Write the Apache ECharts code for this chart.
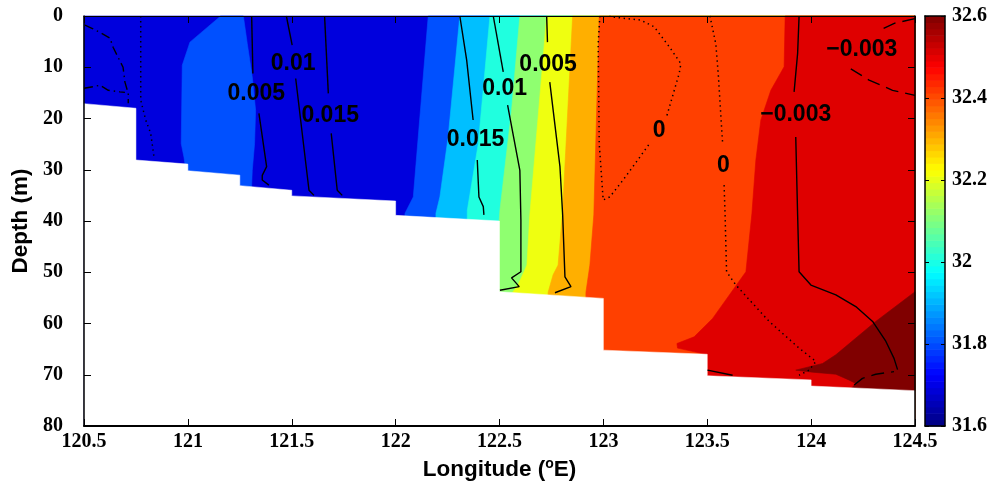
<!DOCTYPE html>
<html><head><meta charset="utf-8">
<script src="https://cdn.jsdelivr.net/npm/echarts@6/dist/echarts.min.js"></script>
<style>html,body{margin:0;padding:0;background:#fff}#c{width:1000px;height:488px}</style>
</head><body><div id="c"></div>
<script>
// ---------------- axis ranges / ticks ----------------
const lonRange = [120.5, 124.5];
const depthRange = [0, 80];
const salinityRange = [31.6, 32.6];

// ---------------- bottom topography [lon, depth m] ----------------
const bathymetry = [[120.5,17.1],[120.75,18.0],[120.75,28.1],[121.0,28.9],[121.0,30.2],[121.25,31.05],
  [121.25,33.1],[121.5,34.0],[121.5,35.1],[122.0,36.1],[122.0,38.9],[122.5,40.0],[122.5,53.8],[123.0,55.1],
  [123.0,65.2],[123.5,66.0],[123.5,70.2],[124.0,71.0],[124.0,72.2],[124.5,73.1]];

// ---------------- isohalines (salinity band boundaries) [lon, depth] ----------------
const iso31_8 = [[122.157,0],[122.085,35.3],[122.045,38.5],[122.04,80]];
const iso31_8_patch = [[121.158,0],[121.010,5.1],[120.973,9.6],[120.968,24.9],[120.981,27.5],[120.994,31.0],
  [121.305,35.0],[121.310,30.1],[121.321,24.9],[121.326,18.4],[121.310,11.9],[121.286,5.4],[121.267,0]];
const iso31_9 = [[122.309,0],[122.253,23.6],[122.213,35.3],[122.194,38.5],[122.19,80]];
const iso32_0 = [[122.454,0],[122.398,24.9],[122.345,37.9],[122.34,80]];
const iso32_1 = [[122.598,0],[122.558,18.4],[122.502,37.9],[122.49,45],[122.49,80]];
const iso32_2 = [[122.727,0],[122.646,38.8],[122.632,48.6],[122.589,52.5],[122.560,54.1],[122.55,80]];
const iso32_3 = [[122.852,0],[122.804,37.9],[122.782,48.6],[122.758,50.5],[122.734,53.9],[122.73,80]];
const iso32_4 = [[122.980,0],[122.954,38.8],[122.935,48.6],[122.916,53.9],[122.91,80]];
const iso32_5 = [[123.875,0],[123.870,9.9],[123.806,14.5],[123.758,20.3],[123.734,28.1],[123.715,38.5],
  [123.686,49.9],[123.526,59.0],[123.437,62.6],[123.354,63.9],[123.357,64.8],[123.493,66.0],[123.50,66.2],[123.50,80]];
const iso32_6_patch = [[124.5,53.8],[124.311,59.6],[124.119,66.1],[124.055,67.8],[123.926,69.1],[124.007,69.5],
  [124.119,69.9],[124.181,71.0],[124.215,71.7],[124.186,73.0],[124.186,80],[124.5,80]];

// ---------------- overlaid contour lines (segments) [lon, depth] ----------------
const cNegWest = [[[120.505,1.8],[120.538,2.4],[120.577,3.2],[120.625,4.3],[120.640,6.1],[120.688,10.0],[120.697,12.9],[120.713,15.1],[120.713,17.0]],
  [[120.5,14.1],[120.545,13.8],[120.577,13.5],[120.617,14.5],[120.673,14.8],[120.697,14.9]]];
const cZeroWest = [[[120.773,0],[120.773,16.4],[120.797,20.3],[120.821,22.9],[120.837,27.5]]];
const c005a = [[[121.307,0],[121.313,11.2]],[[121.342,19.0],[121.379,29.4],[121.358,31.1],[121.358,32.0],[121.390,33.0]]];
const c010a = [[[121.474,0],[121.502,5.7]],[[121.519,12.2],[121.583,34.0],[121.607,35.0]]];
const c015a = [[[121.658,0],[121.676,15.1]],[[121.690,22.9],[121.719,34.0],[121.743,35.0]]];
const c015b = [[[122.309,0],[122.342,8.6],[122.373,20.3]],[[122.393,28.1],[122.401,35.3],[122.422,37.2],[122.425,38.8]]];
const c010b = [[[122.470,0],[122.518,10.9]],[[122.539,17.4],[122.598,30.1],[122.603,39.8],[122.603,49.9],[122.558,51.1],[122.595,52.8],[122.502,53.5]]];
const c005b = [[[122.727,0],[122.731,5.1]],[[122.742,12.9],[122.791,29.4],[122.804,38.8],[122.815,50.9],[122.844,52.8],[122.767,54.0]]];
const cZeroA = [[[122.983,0],[122.975,5.4],[122.980,24.9],[122.999,35.9],[123.031,35.3],[123.095,32.0],[123.176,27.5],[123.224,24.8]],
  [[123.306,19.4],[123.365,11.2],[123.373,9.3],[123.317,6.0],[123.244,2.1],[123.180,0.8],[123.055,0.25],[123.03,0]]];
const cZeroB = [[[123.513,0],[123.541,5.4],[123.554,11.9],[123.574,24.9]],
  [[123.581,33.0],[123.586,39.2],[123.593,49.9],[123.638,52.5],[123.798,59.6],[123.942,64.8],[124.023,67.4],[123.990,69.1],[123.942,70.1]]];
const cNeg003a = [[[123.942,0],[123.935,7.3],[123.918,14.8]],
  [[123.926,23.6],[123.935,38.8],[123.942,49.9],[123.999,52.5],[124.119,54.4],[124.215,56.7],[124.296,59.6],[124.360,63.5],[124.399,66.8],[124.416,69.0]]];
const cNeg003b = [[[124.5,0.5],[124.403,1.4],[124.327,2.8]],[[124.191,10.3],[124.279,12.5],[124.392,14.5],[124.5,15.5]]];
const cNegBottom = [[[124.207,72.0],[124.247,70.7],[124.311,69.9],[124.399,69.4]]];
const cPosBottom = [[[123.501,69.1],[123.622,70.1]]];

// ---------------- contour labels ----------------
const labelTexts = ['0.01','0.005','0.015','0.015','0.01','0.005','0','0','\u22120.003','\u22120.003'];
const labelPos = [[121.507,9.3],[121.329,15.1],[121.685,19.4],[122.385,24.2],[122.525,14.2],[122.734,9.4],
  [123.268,22.3],[123.578,29.2],[123.926,19.3],[124.244,6.5]];

// ---------------- styles ----------------
const bandColor = {31.7:'#0000DD',31.8:'#0050FF',31.9:'#00BFFF',32.0:'#20FFDF',32.1:'#8FFF70',
  32.2:'#EFFF10',32.3:'#FFAF00',32.4:'#FF4000',32.5:'#DF0000',32.6:'#800000'};
const SOLID = 'solid', DOT = [1.4,3.6], DASH = [13,7], DASHDOT = [9,4,1.5,4];

const fullRect = [[lonRange[0],depthRange[0]],[lonRange[1],depthRange[0]],[lonRange[1],depthRange[1]],[lonRange[0],depthRange[1]]];
const rightOf = line => line.concat([[lonRange[1],depthRange[1]],[lonRange[1],depthRange[0]]]);
const fills = [
  {poly: fullRect, level: 31.7},
  {poly: rightOf(iso31_8), level: 31.8},
  {poly: iso31_8_patch, level: 31.8},
  {poly: rightOf(iso31_9), level: 31.9},
  {poly: rightOf(iso32_0), level: 32.0},
  {poly: rightOf(iso32_1), level: 32.1},
  {poly: rightOf(iso32_2), level: 32.2},
  {poly: rightOf(iso32_3), level: 32.3},
  {poly: rightOf(iso32_4), level: 32.4},
  {poly: rightOf(iso32_5), level: 32.5},
  {poly: iso32_6_patch, level: 32.6}
];
const seabed = bathymetry.concat([[lonRange[1],depthRange[1]],[lonRange[0],depthRange[1]]]);

const lineDefs = [
  [cNegWest, DASHDOT],[cZeroWest, DOT],[c005a, SOLID],[c010a, SOLID],[c015a, SOLID],
  [c015b, SOLID],[c010b, SOLID],[c005b, SOLID],[cZeroA, DOT],[cZeroB, DOT],
  [cNeg003a, SOLID],[cNeg003b, DASH],[cNegBottom, DASH],[cPosBottom, SOLID]
];

function jet(t){
  const c = v => Math.round(255*Math.max(0, Math.min(1, v)));
  return 'rgb(' + c(1.5-Math.abs(4*t-3)) + ',' + c(1.5-Math.abs(4*t-2)) + ',' + c(1.5-Math.abs(4*t-1)) + ')';
}
const NCB = 64;
const cbCells = [];
for (let i = 0; i < NCB; i++) cbCells.push(i);

const serifTick = {fontFamily:'Liberation Serif', fontWeight:'bold', fontSize:20, color:'#000'};
const axLine = (w) => ({show:true, onZero:false, lineStyle:{color:'#000', width:w}});

const series = [];
series.push({
  type:'custom', xAxisIndex:0, yAxisIndex:0, silent:true, z:1,
  data: fills.map((f,i)=>[122.5, 40, i]),
  renderItem: (params, api) => {
    const f = fills[params.dataIndex];
    const pts = f.poly.map(p => api.coord(p));
    const col = bandColor[f.level];
    return {type:'polygon', shape:{points:pts}, style:{fill:col, stroke:col, lineWidth:0.6}};
  }
});
series.push({
  type:'custom', xAxisIndex:0, yAxisIndex:0, silent:true, z:2,
  data: [[122.5, 60]],
  renderItem: (params, api) => ({type:'polygon', shape:{points: seabed.map(p=>api.coord(p))}, style:{fill:'#fff', stroke:'#fff', lineWidth:0.5}})
});
lineDefs.forEach(([segs, style]) => {
  segs.forEach(seg => {
    series.push({type:'line', xAxisIndex:0, yAxisIndex:0, data: seg, showSymbol:false, silent:true, z:3,
      lineStyle:{color:'#000', width: style === DOT ? 1.5 : 1.4, type: style}});
  });
});
series.push({
  type:'custom', xAxisIndex:0, yAxisIndex:0, silent:true, z:4,
  data: labelPos.map((p,i)=>[p[0], p[1], i]),
  renderItem: (params, api) => {
    const i = params.dataIndex;
    const pt = api.coord(labelPos[i]);
    return {type:'text', x: pt[0], y: pt[1], style:{text: labelTexts[i], fill:'#000', fontSize:23,
      fontWeight:'bold', fontFamily:'Liberation Sans', align:'center', verticalAlign:'middle'}};
  }
});
series.push({
  type:'custom', xAxisIndex:2, yAxisIndex:2, silent:true, z:1,
  data: cbCells.map(i => [0.5, salinityRange[0] + (i+0.5)*(salinityRange[1]-salinityRange[0])/NCB, i]),
  renderItem: (params, api) => {
    const i = params.dataIndex;
    const step = (salinityRange[1]-salinityRange[0])/NCB;
    const p0 = api.coord([0, salinityRange[0] + (i+1)*step]);
    const p1 = api.coord([1, salinityRange[0] + i*step]);
    return {type:'rect', shape:{x:p0[0], y:p0[1], width:p1[0]-p0[0], height:p1[1]-p0[1]+0.6},
      style:{fill: jet((i+0.5)/NCB)}};
  }
});

const option = {
  animation:false,
  backgroundColor:'#fff',
  grid:[
    {left:84, top:16, right:85, bottom:62, containLabel:false, outerBoundsMode:'none'},
    {left:925, top:16, width:20, bottom:62, containLabel:false, outerBoundsMode:'none'}
  ],
  xAxis:[
    {type:'value', gridIndex:0, position:'bottom', min:lonRange[0], max:lonRange[1], interval:0.5, z:10,
      axisLine:axLine(2), axisTick:{show:true, inside:true, length:7, lineStyle:{color:'#000', width:1}},
      splitLine:{show:false}, axisLabel:Object.assign({margin:6, showMinLabel:true, showMaxLabel:true, hideOverlap:false}, serifTick),
      name:'{a|Longitude (}{s|o}{a|E)}', nameLocation:'middle', nameGap:31,
      nameTextStyle:{rich:{a:{fontFamily:'Liberation Sans', fontWeight:'bold', fontSize:22.5, color:'#000'},
        s:{fontFamily:'Liberation Sans', fontWeight:'bold', fontSize:14, color:'#000', padding:[0,0,12,0]}}}},
    {type:'value', gridIndex:0, position:'top', min:lonRange[0], max:lonRange[1], interval:0.5, z:10,
      axisLine:axLine(1), axisTick:{show:true, inside:true, length:7, lineStyle:{color:'#000', width:1}},
      splitLine:{show:false}, axisLabel:{show:false}},
    {type:'value', gridIndex:1, position:'bottom', min:0, max:1, z:10,
      axisLine:axLine(1.5), axisTick:{show:false}, splitLine:{show:false}, axisLabel:{show:false}},
    {type:'value', gridIndex:1, position:'top', min:0, max:1, z:10,
      axisLine:axLine(1.5), axisTick:{show:false}, splitLine:{show:false}, axisLabel:{show:false}}
  ],
  yAxis:[
    {type:'value', gridIndex:0, position:'left', inverse:true, min:depthRange[0], max:depthRange[1], interval:10, z:10,
      axisLine:axLine(1.5), axisTick:{show:true, inside:true, length:7, lineStyle:{color:'#000', width:1}},
      splitLine:{show:false}, axisLabel:Object.assign({margin:21, showMinLabel:true, showMaxLabel:true, hideOverlap:false}, serifTick),
      name:'Depth (m)', nameLocation:'middle', nameGap:51, nameRotate:90,
      nameTextStyle:{fontFamily:'Liberation Sans', fontWeight:'bold', fontSize:22.5, color:'#000'}},
    {type:'value', gridIndex:0, position:'right', inverse:true, min:depthRange[0], max:depthRange[1], interval:10, z:10,
      axisLine:axLine(1.5), axisTick:{show:true, inside:true, length:7, lineStyle:{color:'#000', width:1}},
      splitLine:{show:false}, axisLabel:{show:false}},
    {type:'value', gridIndex:1, position:'right', min:salinityRange[0], max:salinityRange[1], interval:0.2, z:10,
      axisLine:axLine(1.5), axisTick:{show:true, inside:true, length:4, lineStyle:{color:'#000', width:1}},
      splitLine:{show:false}, axisLabel:Object.assign({margin:7, showMinLabel:true, showMaxLabel:true, hideOverlap:false}, serifTick)},
    {type:'value', gridIndex:1, position:'left', min:salinityRange[0], max:salinityRange[1], interval:0.2, z:10,
      axisLine:axLine(1.5), axisTick:{show:true, inside:true, length:4, lineStyle:{color:'#000', width:1}},
      splitLine:{show:false}, axisLabel:{show:false}}
  ],
  series: series
};
const chart = echarts.init(document.getElementById('c'));
chart.setOption(option);
</script></body></html>
